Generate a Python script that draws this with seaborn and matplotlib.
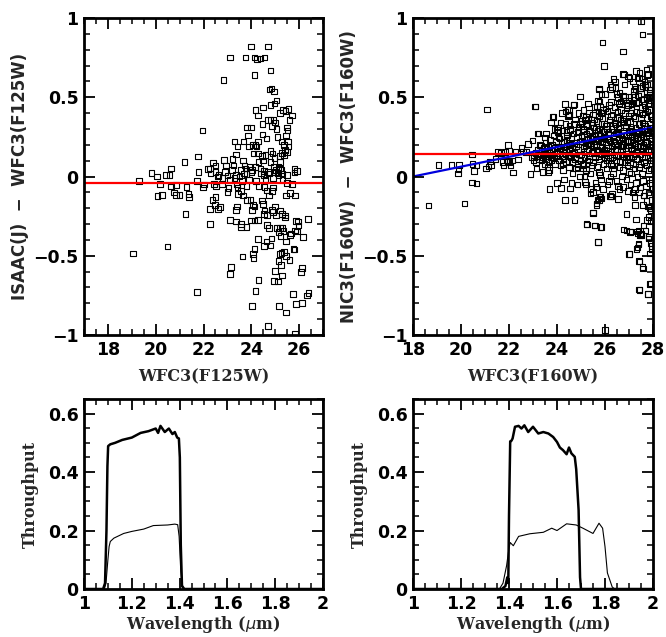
import numpy as np
import pandas as pd
import seaborn as sns
import matplotlib.pyplot as plt
from matplotlib.ticker import MultipleLocator, FuncFormatter

# ---- top-left: ISAAC(J) - WFC3(F125W) vs WFC3(F125W)
j_mag = [19.82, 20.05, 20.43, 20.57, 20.64, 21.2, 21.76, 21.95, 21.8, 22.19, 22.4, 22.5, 22.28, 22.63,
         22.86, 22.94, 23.0, 23.1, 22.83, 23.26, 23.22, 23.3, 23.43, 23.36, 23.68, 23.75, 23.82, 23.99,
         23.86, 23.9, 23.65, 23.72, 23.75, 23.8, 23.99, 24.13, 24.24, 24.38, 24.56, 24.13, 24.7, 24.8,
         24.77, 24.84, 24.94, 25.05, 24.98, 24.17, 24.49, 24.28, 24.8, 25.33, 25.43, 25.56, 25.7, 25.21,
         24.71, 24.81, 24.92, 25.0, 24.86, 25.05, 24.46, 24.46, 24.63, 25.59, 25.5, 25.52, 25.54, 25.45,
         25.09, 25.26, 25.37, 25.4, 25.28, 25.21, 25.19, 25.14, 25.56, 25.5, 25.36, 24.28, 24.06, 24.17,
         24.22, 24.1, 24.28, 24.45, 24.59, 24.5, 24.3, 24.38, 24.17, 24.52, 24.81, 24.89, 24.98, 24.8,
         24.94, 25.0, 24.73, 24.52, 25.81, 25.91, 25.8, 25.26, 25.28, 25.03, 25.14, 23.93, 24.03, 23.58,
         23.36,
         19.31, 20.19, 20.07, 20.26, 20.65, 20.86, 20.77, 20.86, 21.0, 21.28, 21.38, 21.4, 21.24, 21.73,
         21.99, 22.02, 22.28, 19.05, 20.49, 21.73, 22.28, 22.38, 22.5, 22.47, 22.6, 22.7, 22.52, 22.43,
         22.77, 23.0, 23.05, 23.12, 23.36, 23.4, 23.36, 23.14, 23.11, 23.58, 23.58, 23.79, 23.64, 23.42,
         23.45, 23.58, 23.65, 23.82, 23.96, 24.03, 24.06, 24.14, 23.99, 24.13, 24.27, 24.07, 24.1, 24.14,
         24.27, 24.31, 24.17, 24.03, 24.69, 24.45, 24.49, 24.55, 24.66, 24.52, 24.66, 24.73, 24.63, 24.52,
         24.8, 24.84, 24.56, 24.66, 24.73, 24.87, 25.0, 24.87, 24.9, 25.03, 25.21, 25.28, 25.4, 25.42,
         25.08, 25.19, 25.28, 25.35, 25.14, 25.23, 25.45, 25.26, 25.21, 25.36, 25.45, 25.59, 25.14, 25.24,
         25.28, 25.0, 24.96, 25.12, 25.74, 25.88, 26.12, 25.46, 25.16, 25.46, 25.63, 25.84, 25.5, 25.7,
         25.98, 25.95, 25.91, 25.84, 25.67, 25.63, 26.17, 26.37, 25.76, 25.8, 26.12, 26.08, 26.4, 26.34,
         25.88, 25.84,
         22.3, 22.6, 22.8, 23.1, 23.3, 23.5, 23.6, 23.7, 23.9, 24.0, 24.2, 24.4, 24.6, 24.7, 24.9, 25.1,
         25.3, 25.5, 23.2, 23.8, 24.3, 24.9, 25.2, 22.9, 23.4, 22.5]
j_diff = [0.023, 0.0, 0.01, 0.01, 0.05, 0.093, 0.126, 0.29, 0.03, 0.046, 0.087, 0.07, 0.05, 0.008,
          0.105, 0.07, 0.006, 0.75, 0.61, 0.07, 0.11, 0.22, 0.19, 0.14, 0.22, 0.75, 0.31, 0.31,
          0.26, 0.19, 0.10, 0.07, 0.05, 0.017, 0.82, 0.75, 0.74, 0.745, 0.75, 0.64, 0.82, 0.67,
          0.55, 0.555, 0.535, 0.48, 0.46, 0.42, 0.435, 0.385, 0.45, 0.42, 0.415, 0.425, 0.385, 0.40,
          0.355, 0.355, 0.355, 0.34, 0.32, 0.30, 0.33, 0.265, 0.24, 0.355, 0.31, 0.29, 0.22, 0.26,
          0.25, 0.22, 0.20, 0.166, 0.15, 0.13, 0.09, 0.06, 0.19, 0.155, 0.135, 0.22, 0.20, 0.20,
          0.19, 0.145, 0.145, 0.13, 0.135, 0.10, 0.09, 0.05, 0.06, 0.033, 0.16, 0.145, 0.115, 0.09,
          0.06, 0.03, 0.02, 0.008, 0.046, 0.033, 0.025, 0.04, 0.02, 0.04, 0.008, 0.06, 0.04, 0.04,
          0.008,
          -0.03, -0.046, -0.124, -0.115, -0.063, -0.055, -0.10, -0.115, -0.115, -0.067, -0.11, -0.13, -0.235, -0.03,
          -0.07, -0.05, -0.30, -0.486, -0.443, -0.727, -0.204, -0.147, -0.13, -0.18, -0.204, -0.194, -0.063, -0.046,
          -0.046, -0.099, -0.074, -0.273, -0.284, -0.19, -0.21, -0.57, -0.614, -0.30, -0.32, -0.32, -0.505, -0.07,
          -0.11, -0.09, -0.12, -0.147, -0.147, -0.21, -0.18, -0.19, -0.278, -0.278, -0.273, -0.488, -0.513, -0.456,
          -0.393, -0.652, -0.724, -0.816, -0.942, -0.151, -0.172, -0.215, -0.242, -0.235, -0.305, -0.326, -0.41, -0.44,
          -0.435, -0.39, -0.067, -0.088, -0.12, -0.093, -0.19, -0.21, -0.225, -0.246, -0.215, -0.235, -0.246, -0.26,
          -0.326, -0.324, -0.324, -0.345, -0.35, -0.374, -0.41, -0.484, -0.488, -0.475, -0.503, -0.526, -0.534, -0.56,
          -0.625, -0.597, -0.66, -0.662, -0.74, -0.803, -0.797, -0.858, -0.816, -0.12, -0.105, -0.12, -0.042, -0.046,
          -0.31, -0.284, -0.347, -0.34, -0.36, -0.368, -0.383, -0.267, -0.456, -0.46, -0.578, -0.604, -0.736, -0.75,
          -0.282, -0.993,
          0.02, 0.0, -0.01, -0.02, -0.01, 0.0, -0.03, 0.02, -0.02, 0.03, -0.03, 0.02, -0.02, 0.03, -0.01, 0.02,
          -0.02, 0.01, 0.04, -0.06, -0.06, -0.07, 0.05, 0.03, -0.05, 0.03]
j_offset = -0.04

# ---- top-right: NIC3(F160W) - WFC3(F160W) vs WFC3(F160W)
h_sparse_mag = [18.65, 19.07, 19.61, 19.92, 19.9, 19.88, 20.14, 20.46, 20.47, 20.64, 20.55, 20.45, 20.64,
                21.08, 21.05, 21.14, 21.2, 21.26, 21.43, 21.54, 21.67, 21.72, 21.78, 21.83, 21.89, 21.96,
                21.99, 21.96, 22.03, 22.07, 22.17, 22.14, 22.28, 22.38, 22.53, 22.58, 22.7, 22.79, 22.89,
                22.93, 22.97, 23.03, 23.1, 23.18, 23.22, 23.33, 23.43, 23.5, 23.6, 23.64, 23.68, 23.82,
                23.99, 24.06, 24.0, 24.33, 24.43, 24.51, 24.54, 24.4, 24.47, 24.26, 24.17, 24.33, 24.68,
                24.96, 24.89, 25.03, 25.1, 24.85, 25.1, 25.2, 25.17, 25.51, 25.24, 25.58, 25.7, 25.49,
                25.65, 25.65, 25.76, 25.82, 25.86, 25.82, 25.76, 25.79, 25.86, 25.9, 25.96, 26.01, 26.74,
                26.79, 27.49, 27.56, 26.74, 26.9, 27.04, 27.29, 27.35, 27.4, 27.6, 27.68, 27.75, 26.99,
                27.32, 27.39, 27.46, 27.53, 27.43, 27.57, 27.43, 27.8, 27.88, 27.81, 27.9, 27.94, 27.88,
                27.88, 27.92, 27.94, 24.55, 24.72, 25.4, 25.68, 25.64, 25.78, 25.92, 25.5, 25.22, 25.57,
                25.85, 25.71, 26.2, 26.26, 26.54, 26.89, 26.78, 27.05, 27.33, 27.47, 27.51, 27.03, 27.4,
                27.35, 27.42, 27.58, 27.42, 27.79, 27.9, 27.24, 27.58, 27.72, 27.79, 27.86, 27.82, 27.89,
                27.83, 27.93, 23.86, 23.76, 24.04, 24.53, 24.95, 25.08, 25.2, 25.67, 25.78, 25.72, 25.75,
                26.75, 26.96, 27.03, 26.35, 26.43, 26.22, 26.3, 25.85, 25.99, 27.3, 27.44, 27.42, 27.54,
                27.72, 27.79, 27.65, 27.75, 27.86, 27.24, 27.28, 27.51, 27.68, 27.18, 26.97, 26.76, 26.55,
                26.65, 26.9, 27.11, 27.3, 27.58, 27.72, 27.86, 24.7, 24.35, 24.5, 23.08, 26.95, 27.15,
                27.45, 27.6, 26.6, 26.3]
h_sparse_diff = [-0.184, 0.072, 0.072, 0.072, 0.043, 0.02, -0.17, 0.14, 0.08, 0.07, 0.033, -0.037, -0.045,
                 0.424, 0.05, 0.064, 0.096, 0.074, 0.11, 0.153, 0.148, 0.09, 0.07, 0.153, 0.1, 0.2,
                 0.16, 0.096, 0.09, 0.068, 0.026, 0.1, 0.155, 0.106, 0.18, 0.159, 0.153, 0.205, 0.016,
                 0.121, 0.226, 0.1, 0.443, 0.27, 0.27, 0.196, 0.156, 0.247, 0.06, 0.025, -0.08, 0.378,
                 0.293, 0.25, -0.04, 0.458, 0.42, 0.388, 0.293, 0.23, 0.135, 0.082, -0.074, -0.15, 0.45,
                 0.504, 0.314, 0.335, 0.283, 0.06, 0.072, 0.04, -0.034, -0.097, -0.302, -0.308, -0.413, -0.23,
                 -0.065, -0.17, -0.15, -0.13, -0.14, -0.318, 0.55, 0.44, 0.4, 0.846, 0.698, -0.97, 0.789,
                 0.643, 0.979, 0.895, -0.065, -0.34, -0.35, -0.27, -0.36, -0.34, -0.31, -0.34, -0.275, -0.49,
                 -0.456, -0.424, -0.37, -0.36, -0.536, -0.57, -0.715, -0.74, -0.677, -0.39, -0.42, -0.456, -0.487,
                 -0.19, -0.21, -0.15, -0.075, -0.148, -0.106, -0.148, -0.18, -0.127, -0.08, -0.228, -0.30, -0.31,
                 -0.32, -0.415, -0.123, -0.127, -0.142, -0.237, -0.333, -0.348, -0.348, -0.365, -0.37, -0.49, -0.428,
                 -0.447, -0.533, -0.58, -0.712, -0.741, -0.674, -0.18, -0.18, -0.155, -0.19, -0.2, -0.257, -0.28,
                 -0.38, -0.44, 0.375, 0.34, 0.31, 0.323, 0.33, 0.386, 0.375, 0.443, 0.474, 0.41, 0.554,
                 0.647, 0.632, 0.62, 0.615, 0.558, 0.58, 0.563, 0.516, 0.52, 0.664, 0.653, 0.626, 0.617,
                 0.674, 0.647, 0.6, 0.58, 0.548, 0.569, 0.552, 0.558, 0.565, 0.516, 0.5, 0.512, 0.5,
                 0.474, 0.464, 0.453, 0.464, 0.485, 0.495, 0.506, 0.453, 0.41, 0.39, 0.443, -0.09, -0.1,
                 -0.07, -0.12, -0.08, -0.11]
h_core_mag = [23.05, 23.1, 23.12, 23.18, 23.2, 23.25, 23.28, 23.3, 23.35, 23.38, 23.42, 23.45, 23.48, 23.5,
              23.52, 23.55, 23.58, 23.6, 23.62, 23.65, 23.68, 23.7, 23.72, 23.75, 23.78, 23.8, 23.82, 23.85,
              23.88, 23.9, 23.92, 23.95, 23.98, 23.15, 23.4, 23.66, 23.9, 23.55,
              24.02, 24.05, 24.08, 24.1, 24.12, 24.15, 24.18, 24.2, 24.22, 24.25, 24.28, 24.3, 24.32, 24.35,
              24.38, 24.4, 24.42, 24.45, 24.48, 24.5, 24.52, 24.55, 24.58, 24.6, 24.62, 24.65, 24.68, 24.7,
              24.72, 24.75, 24.78, 24.8, 24.82, 24.85, 24.88, 24.9, 24.92, 24.95, 24.98, 24.05, 24.15, 24.25,
              24.35, 24.45, 24.55, 24.65, 24.75, 24.85, 24.95, 24.6, 24.3, 24.85, 24.2, 24.5, 24.7, 24.9,
              24.4, 24.8, 24.1, 24.65,
              25.02, 25.04, 25.06, 25.08, 25.1, 25.12, 25.14, 25.16, 25.18, 25.2, 25.22, 25.24, 25.26, 25.28,
              25.3, 25.32, 25.34, 25.36, 25.38, 25.4, 25.42, 25.44, 25.46, 25.48, 25.5, 25.52, 25.54, 25.56,
              25.58, 25.6, 25.62, 25.64, 25.66, 25.68, 25.7, 25.72, 25.74, 25.76, 25.78, 25.8, 25.82, 25.84,
              25.86, 25.88, 25.9, 25.92, 25.94, 25.96, 25.98, 25.05, 25.15, 25.25, 25.35, 25.45, 25.55, 25.65,
              25.75, 25.85, 25.95, 25.1, 25.3, 25.5, 25.7, 25.9, 25.2, 25.4, 25.6, 25.8, 25.03, 25.13,
              25.23, 25.33, 25.43, 25.53, 25.63, 25.73, 25.83, 25.93, 25.08, 25.37, 25.58, 25.77, 25.97, 25.47,
              25.67, 25.87,
              26.02, 26.04, 26.06, 26.08, 26.1, 26.12, 26.14, 26.16, 26.18, 26.2, 26.22, 26.24, 26.26, 26.28,
              26.3, 26.32, 26.34, 26.36, 26.38, 26.4, 26.42, 26.44, 26.46, 26.48, 26.5, 26.52, 26.54, 26.56,
              26.58, 26.6, 26.62, 26.64, 26.66, 26.68, 26.7, 26.72, 26.74, 26.76, 26.78, 26.8, 26.82, 26.84,
              26.86, 26.88, 26.9, 26.92, 26.94, 26.96, 26.98, 26.05, 26.15, 26.25, 26.35, 26.45, 26.55, 26.65,
              26.75, 26.85, 26.95, 26.03, 26.13, 26.23, 26.33, 26.43, 26.53, 26.63, 26.73, 26.83, 26.93, 26.07,
              26.17, 26.27, 26.37, 26.47, 26.57, 26.67, 26.77, 26.87, 26.97, 26.09, 26.19, 26.29, 26.39, 26.49,
              26.59, 26.69, 26.79, 26.89, 26.99, 26.11, 26.31, 26.51, 26.71, 26.91, 26.21, 26.41, 26.61, 26.81,
              26.99,
              27.02, 27.04, 27.06, 27.08, 27.1, 27.12, 27.14, 27.16, 27.18, 27.2, 27.22, 27.24, 27.26, 27.28,
              27.3, 27.32, 27.34, 27.36, 27.38, 27.4, 27.42, 27.44, 27.46, 27.48, 27.5, 27.52, 27.54, 27.56,
              27.58, 27.6, 27.62, 27.64, 27.66, 27.68, 27.7, 27.72, 27.74, 27.76, 27.78, 27.8, 27.82, 27.84,
              27.86, 27.88, 27.9, 27.92, 27.94, 27.96, 27.98, 27.03, 27.13, 27.23, 27.33, 27.43, 27.53, 27.63,
              27.73, 27.83, 27.93, 27.05, 27.15, 27.25, 27.35, 27.45, 27.55, 27.65, 27.75, 27.85, 27.95, 27.07,
              27.17, 27.27, 27.37, 27.47, 27.57, 27.67, 27.77, 27.87, 27.97, 27.09, 27.19, 27.29, 27.39, 27.49,
              27.59, 27.69, 27.79, 27.89, 27.99, 27.01, 27.11, 27.21, 27.31, 27.41, 27.51, 27.61, 27.71, 27.81,
              27.91, 27.06, 27.26, 27.46, 27.66, 27.86, 27.16, 27.36, 27.56, 27.76, 27.96, 27.92, 27.82, 27.62,
              27.42, 27.22, 27.98]
h_core_diff = [0.12, 0.15, 0.09, 0.13, 0.17, 0.11, 0.2, 0.14, 0.1, 0.16, 0.12, 0.18, 0.08, 0.14,
               0.21, 0.11, 0.16, 0.13, 0.19, 0.09, 0.15, 0.23, 0.12, 0.17, 0.1, 0.2, 0.14, 0.26,
               0.12, 0.18, 0.08, 0.22, 0.15, 0.05, 0.03, 0.04, 0.3, 0.27,
               0.13, 0.19, 0.1, 0.24, 0.16, 0.07, 0.21, 0.13, 0.29, 0.17, 0.11, 0.22, 0.15, 0.33,
               0.09, 0.19, 0.26, 0.13, 0.21, 0.06, 0.17, 0.3, 0.12, 0.24, 0.18, 0.09, 0.27, 0.15,
               0.21, 0.36, 0.12, 0.19, 0.25, 0.08, 0.17, 0.31, 0.14, 0.22, 0.1, 0.28, 0.34, 0.04,
               0.14, 0.38, 0.2, 0.02, 0.11, 0.28, 0.0, -0.04, -0.02, -0.05, 0.4, 0.42, 0.33, 0.4,
               0.28, 0.05, 0.18, 0.15,
               0.14, 0.22, 0.08, 0.3, 0.18, 0.25, 0.12, 0.36, 0.2, 0.05, 0.27, 0.16, 0.32, 0.1,
               0.23, 0.17, 0.4, 0.13, 0.28, 0.02, 0.21, 0.34, 0.15, 0.25, 0.09, 0.31, 0.19, 0.44,
               0.12, 0.26, 0.2, 0.35, 0.06, 0.29, 0.16, 0.23, 0.38, 0.11, 0.3, 0.19, 0.26, -0.02,
               0.33, 0.14, 0.22, 0.42, 0.08, 0.28, 0.17, 0.35, 0.0, 0.21, 0.29, 0.07, 0.36, 0.24,
               0.03, 0.18, 0.33, 0.42, 0.46, 0.39, 0.48, 0.37, -0.05, -0.08, -0.04, 0.01, 0.26, 0.19,
               0.33, 0.11, 0.24, 0.15, 0.3, 0.13, 0.4, 0.25, 0.05, 0.2, 0.22, 0.27, 0.12, 0.34,
               0.17, 0.24,
               0.15, 0.32, 0.05, 0.24, 0.41, 0.18, 0.28, -0.03, 0.36, 0.12, 0.22, 0.47, 0.08, 0.3,
               0.19, 0.39, 0.02, 0.26, 0.14, 0.44, 0.21, 0.33, 0.1, 0.52, 0.17, 0.28, -0.06, 0.37,
               0.23, 0.06, 0.31, 0.16, 0.42, 0.25, 0.0, 0.35, 0.13, 0.48, 0.2, 0.29, 0.09, 0.4,
               0.18, 0.26, -0.02, 0.34, 0.11, 0.45, 0.22, 0.2, 0.1, 0.38, 0.05, 0.27, 0.13, 0.36,
               0.04, 0.31, 0.16, 0.43, 0.27, 0.0, 0.32, 0.17, 0.41, 0.09, 0.24, 0.5, 0.07, 0.1,
               0.45, 0.16, 0.22, -0.03, 0.3, 0.2, 0.34, 0.12, 0.38, 0.3, 0.23, 0.12, 0.34, 0.2,
               0.46, 0.14, 0.26, 0.43, 0.28, -0.05, 0.07, 0.37, 0.19, 0.23, 0.55, 0.6, 0.53, 0.58,
               0.03,
               0.12, 0.35, 0.22, 0.02, 0.44, 0.17, 0.28, 0.08, 0.38, 0.25, 0.14, 0.5, 0.2, 0.31,
               -0.04, 0.41, 0.11, 0.27, 0.19, 0.47, 0.06, 0.33, 0.23, 0.14, 0.52, 0.29, 0.02, 0.39,
               0.18, 0.25, 0.09, 0.45, 0.32, 0.16, -0.06, 0.37, 0.21, 0.5, 0.12, 0.28, 0.04, 0.42,
               0.19, 0.33, 0.1, 0.48, 0.24, -0.02, 0.36, 0.29, 0.46, 0.05, 0.24, 0.4, 0.16, 0.3,
               0.07, 0.26, 0.14, 0.09, 0.23, 0.37, 0.0, 0.19, 0.44, 0.12, 0.3, 0.53, 0.2, 0.4,
               0.13, 0.26, 0.51, 0.08, 0.34, 0.22, 0.41, -0.04, 0.27, 0.18, 0.54, 0.15, 0.33, 0.25,
               -0.03, 0.43, 0.17, 0.38, 0.1, 0.48, 0.3, 0.21, 0.11, 0.28, 0.37, 0.2, 0.27, 0.46,
               0.31, -0.05, -0.08, 0.56, 0.58, 0.55, 0.6, 0.62, 0.57, 0.64, 0.5, 0.05, -0.1, -0.12,
               -0.1, -0.13, -0.08]
h_offset = 0.145
fit_mag = [18.0, 28.0]
fit_diff = [0.0, 0.31]

# ---- bottom: filter throughput curves
f125_wave = [1.00, 1.08, 1.088, 1.094, 1.098, 1.101, 1.11, 1.13, 1.16, 1.20, 1.237, 1.27, 1.30, 1.31,
             1.32, 1.338, 1.355, 1.37, 1.38, 1.39, 1.397, 1.401, 1.405, 1.41, 1.42, 2.00]
f125_total = [0.0, 0.0, 0.02, 0.2, 0.42, 0.489, 0.495, 0.50, 0.51, 0.518, 0.534, 0.54, 0.549, 0.534,
              0.558, 0.537, 0.549, 0.53, 0.537, 0.518, 0.515, 0.45, 0.15, 0.01, 0.0, 0.0]
f125_qe_wave = [1.00, 1.085, 1.092, 1.1, 1.105, 1.11, 1.125, 1.166, 1.2, 1.25, 1.29, 1.35, 1.38, 1.392,
                1.398, 1.405, 1.41, 1.416, 1.43, 2.00]
f125_qe = [0.0, 0.0, 0.02, 0.1, 0.145, 0.1625, 0.174, 0.19, 0.197, 0.205, 0.217, 0.219, 0.222, 0.22,
           0.18, 0.06, 0.02, 0.0, 0.0, 0.0]

f160_wave = [1.00, 1.37, 1.385, 1.393, 1.397, 1.40, 1.405, 1.41, 1.415, 1.425, 1.44, 1.452, 1.464, 1.48,
             1.50, 1.522, 1.543, 1.564, 1.584, 1.60, 1.612, 1.625, 1.64, 1.65, 1.66, 1.674, 1.68, 1.69,
             1.696, 1.70, 1.71, 2.00]
f160_total = [0.0, 0.0, 0.01, 0.04, 0.02, 0.25, 0.505, 0.507, 0.515, 0.555, 0.558, 0.549, 0.56, 0.537,
              0.555, 0.532, 0.537, 0.532, 0.52, 0.503, 0.484, 0.475, 0.461, 0.484, 0.464, 0.452, 0.41, 0.27,
              0.04, 0.0, 0.0, 0.0]
f160_qe_wave = [1.00, 1.36, 1.375, 1.39, 1.40, 1.405, 1.418, 1.44, 1.487, 1.543, 1.578, 1.60, 1.64, 1.68,
                1.708, 1.75, 1.775, 1.79, 1.80, 1.81, 1.83, 1.84, 2.00]
f160_qe = [0.0, 0.0, 0.02, 0.08, 0.14, 0.159, 0.148, 0.18, 0.189, 0.194, 0.208, 0.2, 0.223, 0.219,
           0.208, 0.19, 0.225, 0.208, 0.145, 0.055, 0.007, 0.0, 0.0]

sns.set_style("ticks")
plt.rcParams.update({
    'font.family': ['DejaVu Sans'],
    'mathtext.default': 'it',
    'axes.axisbelow': False,
    'xtick.direction': 'in', 'ytick.direction': 'in',
    'xtick.top': True, 'ytick.right': True,
    'xtick.major.size': 8, 'ytick.major.size': 8,
    'xtick.minor.size': 4, 'ytick.minor.size': 4,
    'xtick.major.width': 1.3, 'ytick.major.width': 1.3,
    'xtick.minor.width': 1.1, 'ytick.minor.width': 1.1,
    'xtick.color': 'black', 'ytick.color': 'black',
    'xtick.minor.visible': True, 'ytick.minor.visible': True,
})

W, H = 666, 637
fig = plt.figure(figsize=(W / 100, H / 100), dpi=100)


def box(l, t, r, b):
    return [l / W, 1 - b / H, (r - l) / W, (b - t) / H]


ax1 = fig.add_axes(box(84, 18, 323, 335))
ax2 = fig.add_axes(box(413, 18, 653, 335))
ax3 = fig.add_axes(box(84, 399, 323, 589))
ax4 = fig.add_axes(box(413, 399, 653, 589))

lab_font = dict(fontsize=12, fontweight='bold', family='DejaVu Sans')
serif_font = dict(fontsize=11.5, fontweight='bold', family='DejaVu Serif')


def fmt(v, pos):
    s = '%g' % round(v, 3)
    return s.replace('-', '\u2212')


def style(ax, xmaj, xmin, ymaj, ymin):
    ax.set_axisbelow(False)
    ax.xaxis.set_major_locator(MultipleLocator(xmaj))
    ax.xaxis.set_minor_locator(MultipleLocator(xmin))
    ax.yaxis.set_major_locator(MultipleLocator(ymaj))
    ax.yaxis.set_minor_locator(MultipleLocator(ymin))
    ax.xaxis.set_major_formatter(FuncFormatter(fmt))
    ax.yaxis.set_major_formatter(FuncFormatter(fmt))
    ax.tick_params(which='both', direction='in', top=True, right=True, bottom=True, left=True,
                   color='black')
    ax.tick_params(which='major', length=8, width=1.3, labelsize=12.5, pad=4)
    ax.tick_params(which='minor', length=4, width=1.1)
    for lab in ax.get_xticklabels() + ax.get_yticklabels():
        lab.set_fontweight('bold')
    for sp in ax.spines.values():
        sp.set_linewidth(2)
        sp.set_color('k')


sq = dict(marker='s', s=16, facecolors='none', edgecolors='black', linewidths=0.8, legend=False)

# top-left
sns.scatterplot(x=j_mag, y=j_diff, ax=ax1, **sq)
sns.lineplot(x=[17, 27], y=[j_offset, j_offset], ax=ax1, color='red', lw=1.6)
ax1.set_xlim(17, 27)
ax1.set_ylim(-1, 1)
style(ax1, 2, 0.5, 0.5, 0.1)
ax1.set_xlabel('WFC3(F125W)', labelpad=7, **serif_font)
ax1.set_ylabel('ISAAC(J)  \u2212  WFC3(F125W)', labelpad=3, **lab_font)

# top-right
sns.scatterplot(x=h_sparse_mag + h_core_mag, y=h_sparse_diff + h_core_diff, ax=ax2, **sq)
sns.lineplot(x=[18, 28], y=[h_offset, h_offset], ax=ax2, color='red', lw=1.6)
sns.lineplot(x=fit_mag, y=fit_diff, ax=ax2, color='#0000dd', lw=1.6)
ax2.set_xlim(18, 28)
ax2.set_ylim(-1, 1)
style(ax2, 2, 0.5, 0.5, 0.1)
ax2.set_xlabel('WFC3(F160W)', labelpad=7, **serif_font)
ax2.set_ylabel('NIC3(F160W)  \u2212  WFC3(F160W)', labelpad=3, **lab_font)

# bottom panels
for ax, w1, t1, w2, t2 in [(ax3, f125_wave, f125_total, f125_qe_wave, f125_qe),
                           (ax4, f160_wave, f160_total, f160_qe_wave, f160_qe)]:
    sns.lineplot(x=w1, y=t1, ax=ax, color='k', lw=1.8, sort=False, estimator=None)
    sns.lineplot(x=w2, y=t2, ax=ax, color='k', lw=0.8, sort=False, estimator=None)
    ax.set_xlim(1, 2)
    ax.set_ylim(0, 0.65)
    style(ax, 0.2, 0.05, 0.2, 0.05)
    ax.set_xlabel('Wavelength ($\\mu$m)', labelpad=1, **serif_font)
    ax.set_ylabel('Throughput', labelpad=6, **serif_font)

fig.savefig('out.png', dpi=100)
